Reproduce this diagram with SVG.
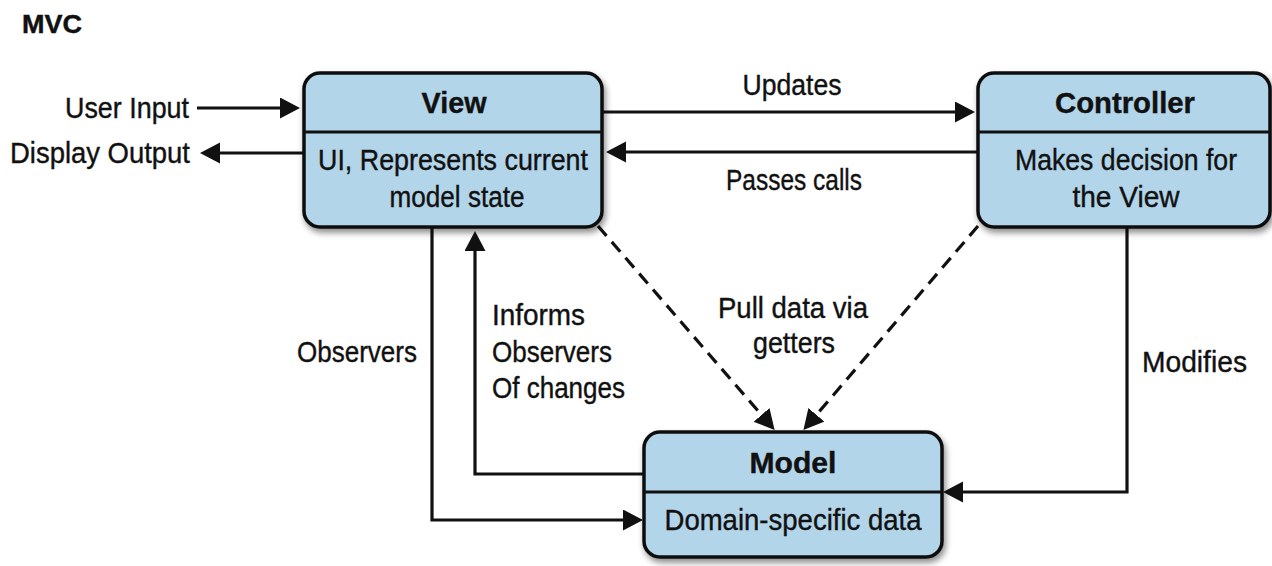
<svg xmlns="http://www.w3.org/2000/svg" width="1272" height="566" viewBox="0 0 1272 566">
<style>
text{font-family:"Liberation Sans",Arial,sans-serif;font-size:30px;fill:#111;stroke:#111;stroke-width:0.4;}
.t{font-weight:bold;text-anchor:middle;}
.b{text-anchor:middle;}
.e{text-anchor:end;}
.box{fill:#b3d5ea;stroke:#111;stroke-width:3.5;}
.div{stroke:#111;stroke-width:3;}
.c{fill:none;stroke:#111;stroke-width:3.2;}
.d{fill:none;stroke:#111;stroke-width:3.2;stroke-dasharray:13 8;}
</style>
<defs>
<filter id="sh" x="-10%" y="-10%" width="125%" height="130%">
<feDropShadow dx="2" dy="4" stdDeviation="3" flood-color="#000" flood-opacity="0.45"/>
</filter>
<marker id="ah" markerUnits="userSpaceOnUse" markerWidth="22" markerHeight="22" refX="16" refY="10.5" orient="auto">
<path d="M0,0 L20,10.5 L0,21 z" fill="#111"/>
</marker>
</defs>
<rect width="1272" height="566" fill="#fff"/>
<text x="22" y="33" style="font-weight:bold;font-size:25px" textLength="60" lengthAdjust="spacingAndGlyphs">MVC</text>

<g id="connectors">
<path class="c" d="M197,108 H296" marker-end="url(#ah)"/>
<path class="c" d="M303,153 H204" marker-end="url(#ah)"/>
<path class="c" d="M603,112 H971" marker-end="url(#ah)"/>
<path class="c" d="M977,152 H610" marker-end="url(#ah)"/>
<path class="c" d="M432,228 V520 H639" marker-end="url(#ah)"/>
<path class="c" d="M643,474 H475 V235" marker-end="url(#ah)"/>
<path class="c" d="M1127,228 V492 H947" marker-end="url(#ah)"/>
<path class="d" d="M598,226 L772,427" marker-end="url(#ah)"/>
<path class="d" d="M978,226 L806,427" marker-end="url(#ah)"/>
</g>

<g id="labels">
<text class="e" x="189" y="118" textLength="124" lengthAdjust="spacingAndGlyphs">User Input</text>
<text class="e" x="190" y="163" textLength="180" lengthAdjust="spacingAndGlyphs">Display Output</text>
<text class="b" x="792" y="95" textLength="99" lengthAdjust="spacingAndGlyphs">Updates</text>
<text class="b" x="794" y="190" textLength="136" lengthAdjust="spacingAndGlyphs">Passes calls</text>
<text class="b" x="793" y="318" textLength="150" lengthAdjust="spacingAndGlyphs">Pull data via</text>
<text class="b" x="794" y="353" textLength="82" lengthAdjust="spacingAndGlyphs">getters</text>
<text x="492" y="325" textLength="93" lengthAdjust="spacingAndGlyphs">Informs</text>
<text x="492" y="362" textLength="120" lengthAdjust="spacingAndGlyphs">Observers</text>
<text x="492" y="398" textLength="133" lengthAdjust="spacingAndGlyphs">Of changes</text>
<text x="297" y="362" textLength="120" lengthAdjust="spacingAndGlyphs">Observers</text>
<text x="1142" y="372" textLength="105" lengthAdjust="spacingAndGlyphs">Modifies</text>
</g>

<g id="view">
<rect class="box" x="304" y="73" width="298" height="154" rx="16" filter="url(#sh)"/>
<line class="div" x1="304" y1="132" x2="602" y2="132"/>
<text class="t" x="454" y="113" textLength="65" lengthAdjust="spacingAndGlyphs">View</text>
<text class="b" x="453" y="170" textLength="270" lengthAdjust="spacingAndGlyphs">UI, Represents current</text>
<text class="b" x="457" y="207" textLength="135" lengthAdjust="spacingAndGlyphs">model state</text>
</g>

<g id="controller">
<rect class="box" x="978" y="73" width="292" height="154" rx="16" filter="url(#sh)"/>
<line class="div" x1="978" y1="132" x2="1270" y2="132"/>
<text class="t" x="1125" y="113" textLength="140" lengthAdjust="spacingAndGlyphs">Controller</text>
<text class="b" x="1126" y="170" textLength="222" lengthAdjust="spacingAndGlyphs">Makes decision for</text>
<text class="b" x="1126" y="207" textLength="107" lengthAdjust="spacingAndGlyphs">the View</text>
</g>

<g id="model">
<rect class="box" x="644" y="432" width="298" height="125" rx="16" filter="url(#sh)"/>
<line class="div" x1="644" y1="492" x2="942" y2="492"/>
<text class="t" x="793" y="473" textLength="87" lengthAdjust="spacingAndGlyphs">Model</text>
<text class="b" x="793" y="530" textLength="257" lengthAdjust="spacingAndGlyphs">Domain-specific data</text>
</g>
</svg>
